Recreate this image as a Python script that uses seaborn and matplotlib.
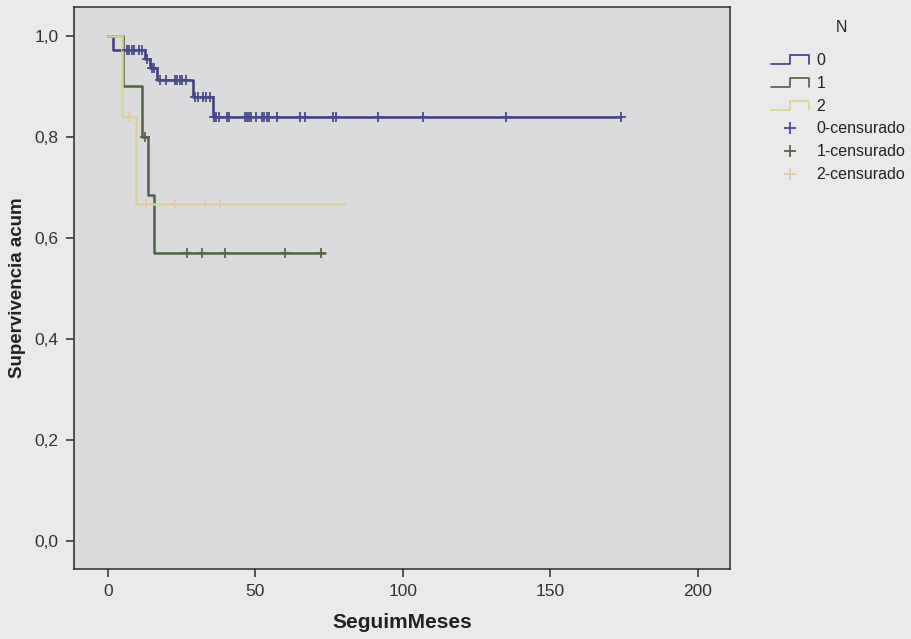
import numpy as np
import pandas as pd
import matplotlib
matplotlib.use("Agg")
import matplotlib.pyplot as plt
from matplotlib.lines import Line2D
from matplotlib.legend_handler import HandlerBase
from matplotlib.ticker import FuncFormatter
import seaborn as sns

# ---- Kaplan-Meier step data per group (months, cumulative survival) ----
groups = ["0", "1", "2"]

times_0 = [0, 1.6, 12.5, 14.2, 16.6, 28.9, 35.7]
surv_0 = [1.0, 0.972, 0.954, 0.936, 0.913, 0.879, 0.840]
end_0 = 174.0
censor_0 = [6.5, 7.3, 8.1, 8.9, 10.6, 11.6,
            13.3, 14.9, 15.7,
            17.6, 19.7, 22.7, 23.5, 24.4, 25.3, 26.4,
            29.6, 30.6, 32.3, 33.4, 34.6,
            36.0, 36.8, 37.6, 40.3, 41.2, 46.4, 47.1, 47.9, 48.7, 50.3,
            52.3, 53.1, 54.0, 54.7, 57.4, 65.3, 66.8, 76.2, 77.5,
            91.5, 107.0, 135.0, 174.0]

times_1 = [0, 5.3, 11.6, 13.7, 15.6]
surv_1 = [1.0, 0.90, 0.80, 0.686, 0.571]
end_1 = 73.6
censor_1 = [12.6, 26.8, 31.8, 39.7, 60.2, 72.4]

times_2 = [0, 4.8, 9.6]
surv_2 = [1.0, 0.84, 0.667]
end_2 = 80.5
censor_2 = [7.3, 13.1, 22.7, 32.9, 38.0]

x_ticks = [0, 50, 100, 150, 200]
y_ticks = [0.0, 0.2, 0.4, 0.6, 0.8, 1.0]

colors = {"0": "#3b3b7e", "1": "#4d6446", "2": "#dcd592"}
censor_colors = {"0": "#4a4a8c", "1": "#56664a", "2": "#e3c9a6"}

curve_rows = []
cens_rows = []
for g, t, s, e, c in [("0", times_0, surv_0, end_0, censor_0),
                      ("1", times_1, surv_1, end_1, censor_1),
                      ("2", times_2, surv_2, end_2, censor_2)]:
    tt = list(t) + [e]
    ss = list(s) + [s[-1]]
    for a, b in zip(tt, ss):
        curve_rows.append({"N": g, "t": a, "s": b})
    idx = np.searchsorted(np.asarray(t), np.asarray(c), side="right") - 1
    for a, i in zip(c, idx):
        cens_rows.append({"N": g, "t": a, "s": s[i]})

curves = pd.DataFrame(curve_rows)
cens = pd.DataFrame(cens_rows)

sns.set_style("ticks")
plt.rcParams["font.family"] = ["Liberation Sans", "DejaVu Sans"]

fig = plt.figure(figsize=(9.12, 6.39), dpi=100)
fig.patch.set_facecolor("#eaeaea")
ax = fig.add_axes([0.0811, 0.1095, 0.7193, 0.8795])
ax.set_facecolor("#dbdbde")

for g in groups:
    sub = curves[curves["N"] == g]
    sns.lineplot(data=sub, x="t", y="s", color=colors[g], estimator=None,
                 sort=False, drawstyle="steps-post", linewidth=1.8,
                 ax=ax, legend=False)
for g in groups:
    sub = cens[cens["N"] == g]
    sns.scatterplot(data=sub, x="t", y="s", color=censor_colors[g], marker="+",
                    s=45, linewidth=1.3, ax=ax, legend=False, zorder=3)

ax.set_xlim(-11.5, 211)
ax.set_ylim(-0.055, 1.057)
ax.set_xticks(x_ticks)
ax.set_yticks(y_ticks)
ax.yaxis.set_major_formatter(FuncFormatter(lambda v, p: f"{v:.1f}".replace(".", ",")))
ax.tick_params(axis="both", direction="out", length=6, width=1.1,
               color="#2a2a2a", labelsize=12.5, labelcolor="#333333", pad=5)
for sp in ax.spines.values():
    sp.set_visible(True)
    sp.set_color("#2a2a2a")
    sp.set_linewidth(1.1)

ax.set_xlabel("SeguimMeses", fontsize=15, fontweight="bold", color="#222222", labelpad=10)
ax.set_ylabel("Supervivencia acum", fontsize=13.5, fontweight="bold", color="#222222", labelpad=6)


class StepHandler(HandlerBase):
    def create_artists(self, legend, orig_handle, xdescent, ydescent,
                       width, height, fontsize, trans):
        x0, y0 = -xdescent, -ydescent
        lo, hi = y0 + 0.05 * height, y0 + 0.85 * height
        xs = [x0, x0 + 0.5 * width, x0 + 0.5 * width, x0 + width, x0 + width]
        ys = [lo, lo, hi, hi, lo]
        ln = Line2D(xs, ys, color=orig_handle.get_color(), linewidth=1.2,
                    transform=trans)
        return [ln]


step_handles = [Line2D([], [], color=colors[g]) for g in groups]
cens_handles = [Line2D([], [], color=censor_colors[g], marker="+", linestyle="none",
                       markersize=9, markeredgewidth=1.3) for g in groups]
handles = step_handles + cens_handles
labels = groups + [f"{g}-censurado" for g in groups]
handler_map = {h: StepHandler() for h in step_handles}

fig.legend(handles, labels, loc="upper left", bbox_to_anchor=(771 / 912, 1 - 53 / 639),
           frameon=False, fontsize=11.5, handlelength=2.4, handletextpad=0.45,
           labelspacing=0.49, borderpad=0, borderaxespad=0, handler_map=handler_map,
           labelcolor="#222222")
fig.text(841.7 / 912, 1 - 28 / 639, "N", ha="center", va="center",
         fontsize=11.5, color="#222222")

fig.savefig("out.png", dpi=100, facecolor=fig.get_facecolor())
